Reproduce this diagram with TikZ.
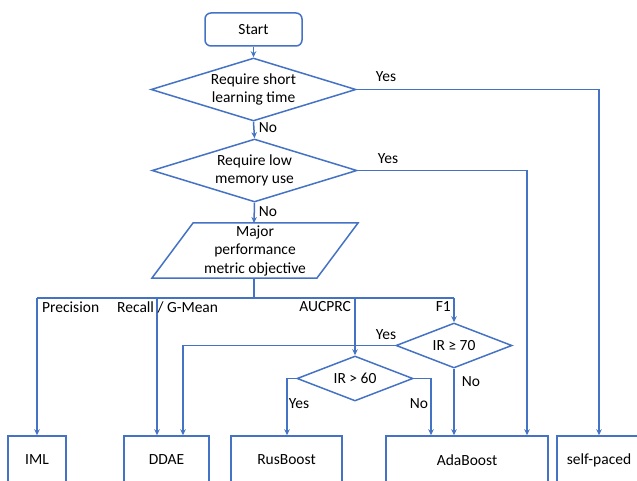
\documentclass[tikz,border=0pt]{standalone}
\usepackage{fontspec}
\setmainfont{Carlito}
\usetikzlibrary{shapes.geometric,arrows.meta}
\definecolor{fc}{RGB}{68,114,196}
\begin{document}
\begin{tikzpicture}[x=1pt,y=-1pt,
  font=\fontsize{15.5}{18.5}\selectfont,
  ln/.style={draw=fc, line width=1.5pt},
  arr/.style={ln, -{Stealth[length=6pt,width=5.5pt]}},
  dia/.style={diamond, ln, inner sep=0pt},
  boxn/.style={rectangle, ln, inner sep=0pt},
  txt/.style={inner sep=0pt, align=center},
  lbl/.style={inner sep=0pt}]
\useasboundingbox (0,0) rectangle (637,481);
\clip (0,0) rectangle (637,481);

% top part
\node[boxn, rounded corners=6pt, minimum width=97pt, minimum height=33pt] (start) at (253.5,29.5) {Start};
\node[dia, minimum width=205pt, minimum height=63pt] (d1) at (253.5,89.5) {};
\node[txt] (t1) at (d1) {Require short\\learning time};
\node[dia, minimum width=205pt, minimum height=63pt] (d2) at (254.5,170.5) {};
\node[txt] (t2) at (d2) {Require low\\memory use};

% parallelogram
\draw[ln] (193,223) -- (358,223) -- (317,278) -- (152,278) -- cycle;
\coordinate (ptop) at (254,223);
\coordinate (pbot) at (254,278);
\node[txt] (pm) at (255,250.5) {Major\\performance\\metric objective};

% bottom boxes
\node[boxn, minimum width=58pt, minimum height=48pt] (iml) at (37,460) {IML};
\node[boxn, minimum width=85pt, minimum height=48pt] (ddae) at (166.5,460) {DDAE};
\node[boxn, minimum width=111pt, minimum height=48pt] (rus) at (286.5,460) {RusBoost};
\node[boxn, minimum width=162pt, minimum height=48pt] (ada) at (467,460) {AdaBoost};
\node[boxn, minimum width=84pt, minimum height=48pt] (sp) at (599,460) {self-paced};

% IR decisions
\node[dia, minimum width=116pt, minimum height=45pt] (ir70) at (454,345.5) {};
\node[txt] (t70) at (ir70) {IR ≥ 70};
\node[dia, minimum width=116pt, minimum height=45pt] (ir60) at (355,378.5) {};
\node[txt] (t60) at (ir60) {IR > 60};

% bus
\coordinate (bus) at (254,298);
\coordinate (busL) at (37,298);
\coordinate (busD) at (157,298);
\coordinate (busA) at (355,298);
\coordinate (busR) at (454,298);

% connectors
\draw[arr] (start) -- (d1.north);
\draw[arr] (d1.south) -- (d2.north);
\draw[arr] (d1.east) -| (sp.north);
\draw[arr] (d2.east) -| ([xshift=60pt]ada.north);
\draw[arr] (d2.south) -- (ptop);
\draw[ln] (pbot) -- (bus);
\draw[ln] (busL) -- (busR);
\draw[arr] (busL) -- (iml.north);
\draw[arr] (busD) -- ([xshift=-9.5pt]ddae.north);
\draw[arr] (busA) -- (ir60.north);
\draw[arr] (busR) -- (ir70.north);
\draw[arr] (ir70.west) -| ([xshift=16.5pt]ddae.north);
\draw[arr] (ir70.south) -- ([xshift=-13pt]ada.north);
\draw[arr] (ir60.west) -| ([xshift=0.5pt]rus.north);
\draw[arr] (ir60.east) -| ([xshift=-36pt]ada.north);

% labels
\node[lbl] (y1) at (386,77) {Yes};
\node[lbl] (n1) at (268,128) {No};
\node[lbl] (y2) at (388,159) {Yes};
\node[lbl] (n2) at (268,212) {No};
\node[lbl, anchor=west] (lp) at (42,307) {Precision};
\node[lbl, anchor=west] (lr) at (117,307) {Recall / G-Mean};
\node[lbl, anchor=east] (la) at (351,307) {AUCPRC};
\node[lbl, anchor=east] (lf) at (451,307) {F1};
\node[lbl] (y3) at (386,335) {Yes};
\node[lbl] (n3) at (471,382) {No};
\node[lbl] (y4) at (299,404) {Yes};
\node[lbl] (n4) at (419,404) {No};
\end{tikzpicture}
\end{document}
